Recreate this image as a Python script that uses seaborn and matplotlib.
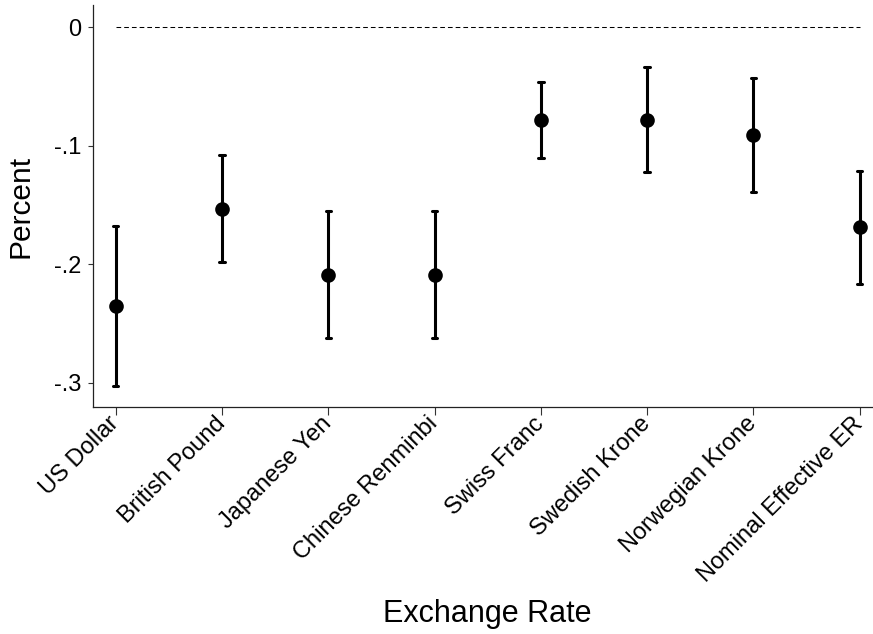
import pandas as pd
import matplotlib.pyplot as plt
import seaborn as sns


# DATA
currencies = ["US Dollar", "British Pound", "Japanese Yen", "Chinese Renminbi",
              "Swiss Franc", "Swedish Krone", "Norwegian Krone", "Nominal Effective ER"]
estimate = [-0.235, -0.1535, -0.209, -0.209, -0.0785, -0.078, -0.091, -0.169]
ci_low = [-0.3025, -0.1985, -0.2625, -0.2625, -0.1105, -0.1225, -0.1395, -0.217]
ci_high = [-0.168, -0.108, -0.155, -0.1555, -0.046, -0.034, -0.043, -0.121]

y_ticks = [0, -0.1, -0.2, -0.3]
y_tick_labels = ["0", "-.1", "-.2", "-.3"]


# long table: lower bound, estimate, upper bound per currency
rows = []
for c, lo, est, hi in zip(currencies, ci_low, estimate, ci_high):
    for v in (lo, est, hi):
        rows.append({"currency": c, "value": v})
df = pd.DataFrame(rows)


sns.set_style("ticks")
plt.rcParams['font.family'] = ['Liberation Sans', 'DejaVu Sans']
plt.rcParams['text.color'] = 'black'
plt.rcParams['axes.labelcolor'] = 'black'

fig = plt.figure(figsize=(8.73, 6.34), dpi=100)
ax = fig.add_axes([0.1065, 0.3576, 0.8935, 0.6345])

# zero reference line
ax.hlines(0, 0, len(currencies) - 1, colors='black',
          linestyles=(0, (4.5, 2.9)), linewidth=0.75)

sns.pointplot(
    data=df, x="currency", y="value",
    order=currencies,
    estimator="median",
    errorbar=("pi", 100),
    color="black",
    linestyle="none",
    markersize=8.5,
    capsize=0.05,
    err_kws={"linewidth": 2.2},
    ax=ax
)

ax.set_xlim(-0.214, 7.125)
ax.set_ylim(-0.3207, 0.0186)
ax.set_yticks(y_ticks)
ax.set_yticklabels(y_tick_labels, fontsize=17)

ax.set_xticks(range(len(currencies)))
ax.set_xticklabels(currencies, rotation=45, ha='right', va='center',
                   rotation_mode='anchor', fontsize=17)

ax.tick_params(axis='x', length=5.5, width=0.8, colors='#333333', labelcolor='black', pad=4)
ax.tick_params(axis='y', length=3.6, width=0.8, colors='#333333', labelcolor='black', pad=5)

sns.despine(ax=ax)
for s in ['left', 'bottom']:
    ax.spines[s].set_linewidth(0.9)
    ax.spines[s].set_color('#222222')

ax.set_ylabel("Percent", fontsize=21.5, labelpad=14)
ax.set_xlabel("Exchange Rate", fontsize=22, va='top')
ax.xaxis.set_label_coords(0.506, -0.476)

plt.savefig("out.png", dpi=100)
